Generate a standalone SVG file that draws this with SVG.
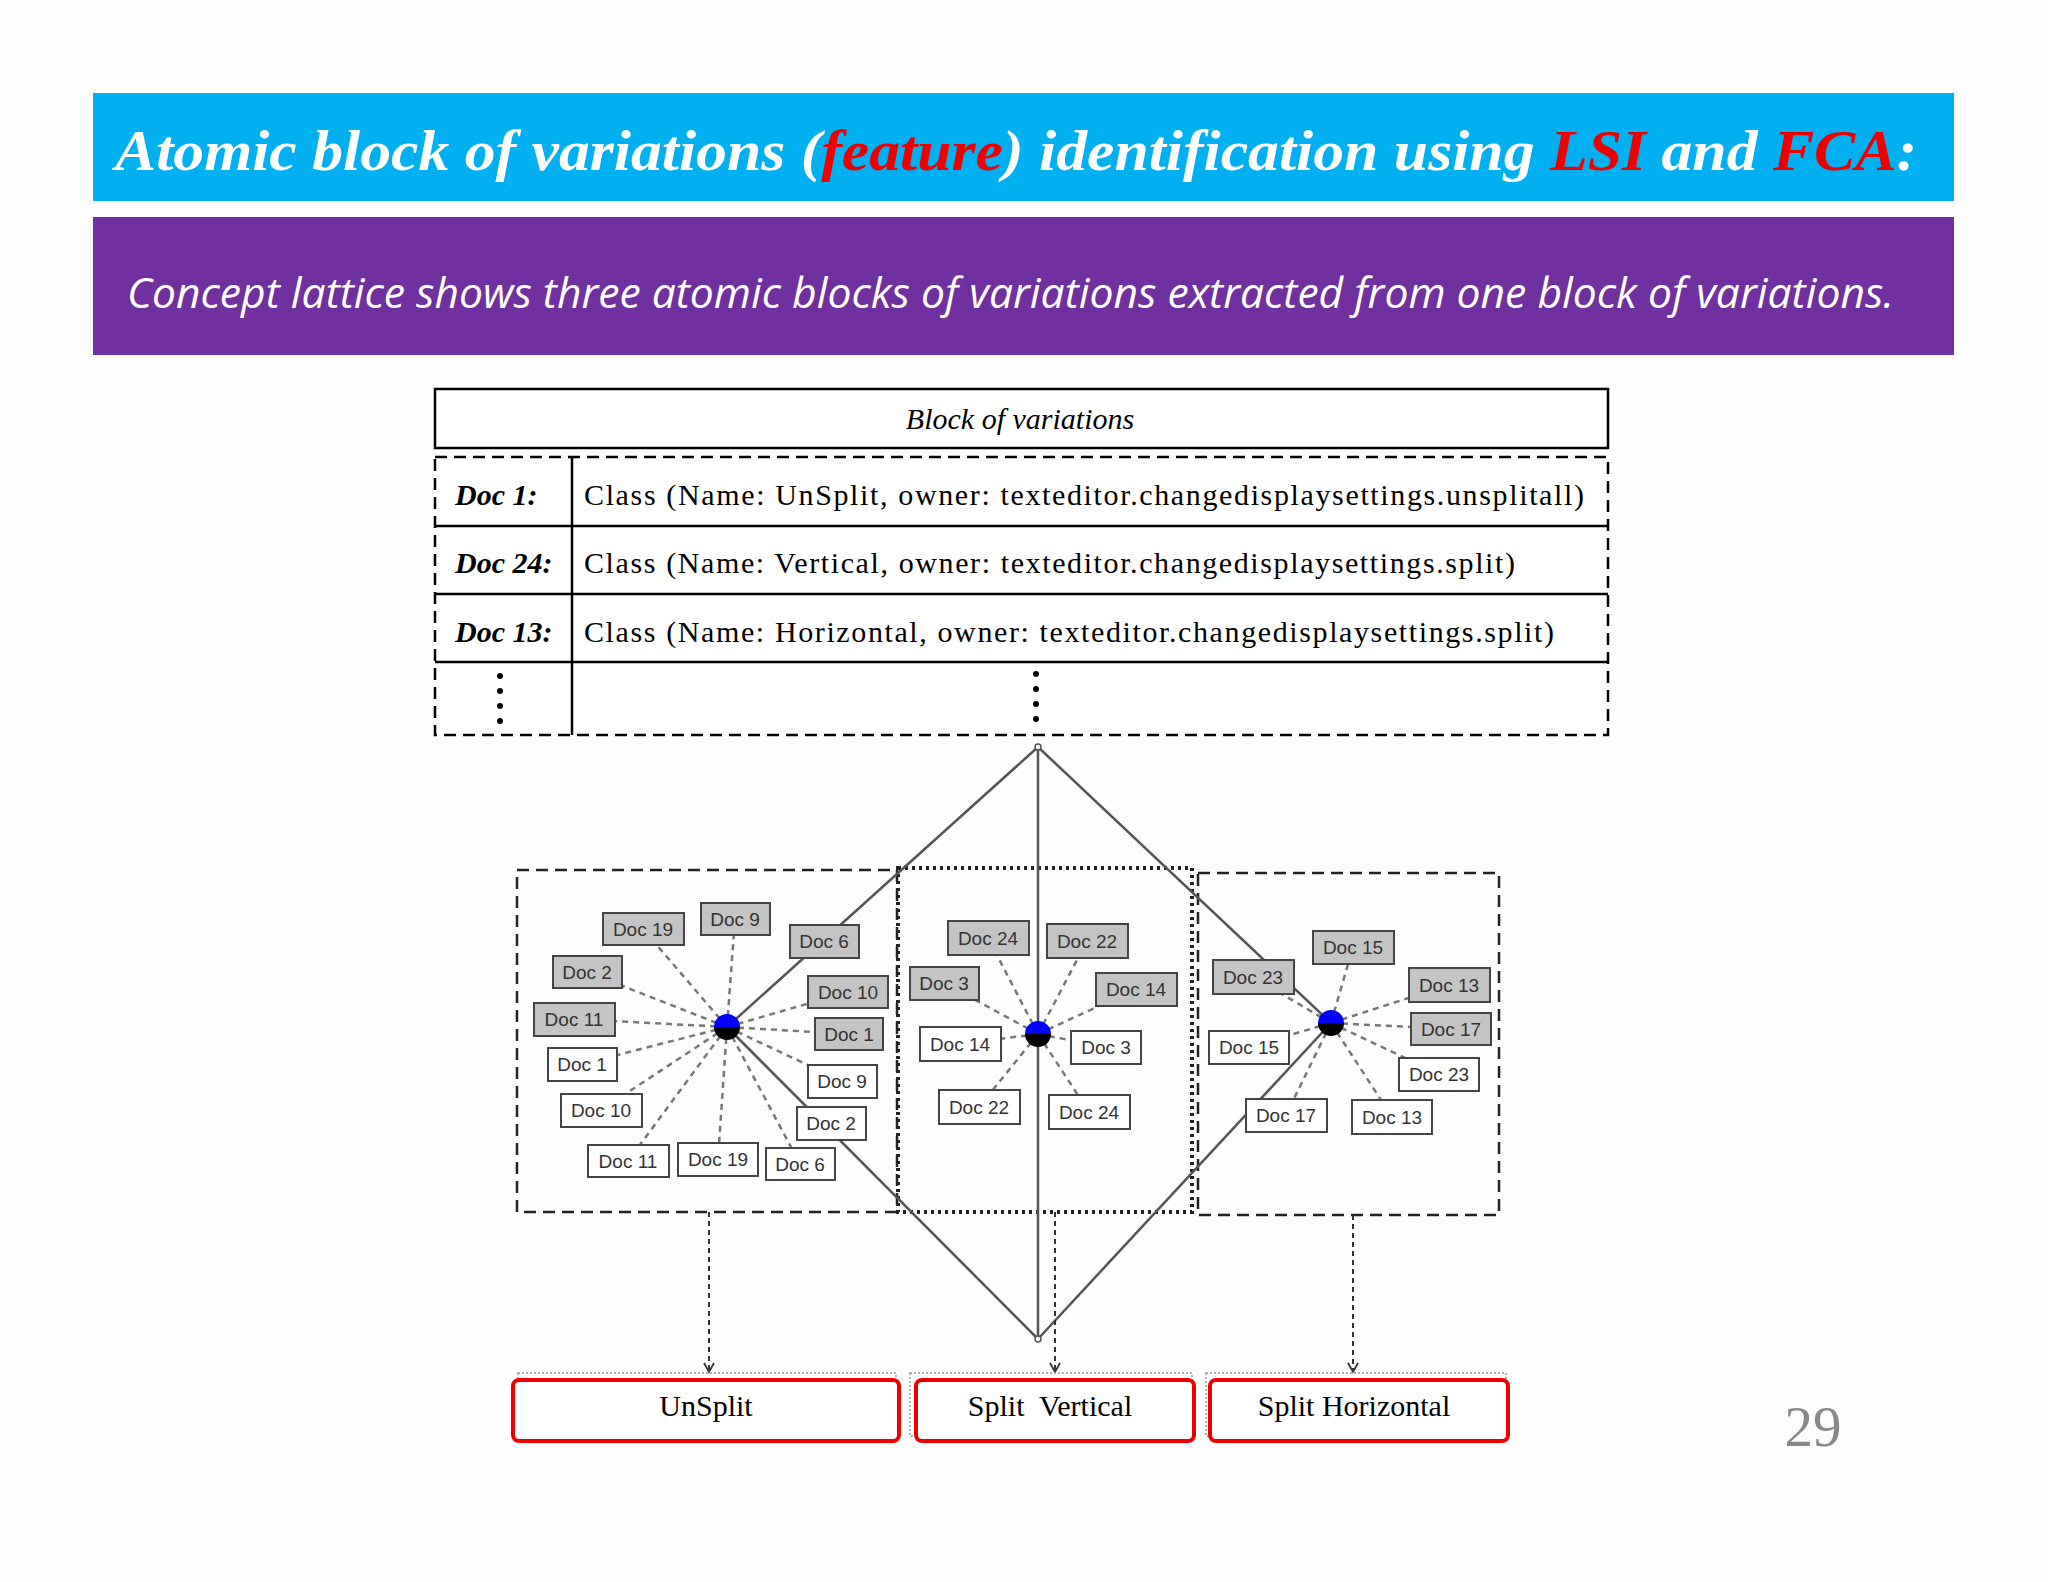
<svg xmlns="http://www.w3.org/2000/svg" width="2048" height="1582" viewBox="0 0 2048 1582">
<style>
.d rect{stroke:#444;stroke-width:2}
.g rect{fill:#c4c4c4}
.w rect{fill:#fff}
.d text{font-family:"Liberation Sans",Arial,sans-serif;font-size:19px;fill:#333;text-anchor:middle}
.sp line{stroke:#777;stroke-width:2.5;stroke-dasharray:6 5}
.lat line{stroke:#555;stroke-width:2.5}
.tb{font-family:"Liberation Serif","Times New Roman",serif;font-size:30px;fill:#000}
.ob rect.r{fill:#fff;stroke:#e00;stroke-width:4}
.ob text{font-family:"Liberation Serif",serif;font-size:30px;text-anchor:middle}
.arr line{stroke:#333;stroke-width:2;stroke-dasharray:5 4}
</style>
<defs>
<marker id="ah" viewBox="0 0 12 12" refX="10" refY="6" markerWidth="12" markerHeight="12" markerUnits="userSpaceOnUse" orient="auto"><path d="M1,1 L10,6 L1,11" fill="none" stroke="#333" stroke-width="1.8"/></marker>
<g id="hub"><path d="M-13,0 A13,13 0 0 1 13,0 Z" fill="#00f"/><path d="M-13,0 A13,13 0 0 0 13,0 Z" fill="#000"/></g>
</defs>
<rect width="2048" height="1582" fill="#fdfdfd"/>
<g id="title">
<rect x="93" y="93" width="1861" height="108" fill="#00b0f0"/>
<text x="115" y="170" font-family="Liberation Serif,serif" font-weight="bold" font-style="italic" font-size="57" fill="#fff" textLength="1802" lengthAdjust="spacingAndGlyphs">Atomic block of variations (<tspan fill="#e00">feature</tspan>) identification using <tspan fill="#e00">LSI</tspan> and <tspan fill="#e00">FCA</tspan>:</text>
</g>
<g id="subtitle">
<rect x="93" y="217" width="1861" height="138" fill="#7030a0"/>
<text x="127" y="308" font-family="Open Sans,Liberation Sans,sans-serif" font-style="italic" font-size="42" fill="#fff" textLength="1767" lengthAdjust="spacingAndGlyphs">Concept lattice shows three atomic blocks of variations extracted from one block of variations.</text>
</g>
<g id="table">
<rect x="435" y="389" width="1173" height="59" fill="#fff" stroke="#000" stroke-width="2.5"/>
<text x="1020" y="429" class="tb" font-style="italic" text-anchor="middle">Block of variations</text>
<rect x="435" y="457" width="1173" height="278" fill="#fff" stroke="#000" stroke-width="2.5" stroke-dasharray="12 7"/>
<line x1="435" y1="526" x2="1608" y2="526" stroke="#000" stroke-width="2.5"/>
<line x1="435" y1="594" x2="1608" y2="594" stroke="#000" stroke-width="2.5"/>
<line x1="435" y1="662" x2="1608" y2="662" stroke="#000" stroke-width="2.5"/>
<line x1="572" y1="457" x2="572" y2="735" stroke="#000" stroke-width="2.5"/>
<text x="455" y="505" class="tb" font-weight="bold" font-style="italic">Doc 1:</text>
<text x="455" y="573" class="tb" font-weight="bold" font-style="italic">Doc 24:</text>
<text x="455" y="642" class="tb" font-weight="bold" font-style="italic">Doc 13:</text>
<text x="584" y="505" class="tb" textLength="1000" lengthAdjust="spacing">Class (Name: UnSplit, owner: texteditor.changedisplaysettings.unsplitall)</text>
<text x="584" y="573" class="tb" textLength="931" lengthAdjust="spacing">Class (Name: Vertical, owner: texteditor.changedisplaysettings.split)</text>
<text x="584" y="642" class="tb" textLength="970" lengthAdjust="spacing">Class (Name: Horizontal, owner: texteditor.changedisplaysettings.split)</text>
<g fill="#000"><circle cx="500" cy="676" r="3"/><circle cx="500" cy="691" r="3"/><circle cx="500" cy="706" r="3"/><circle cx="500" cy="721" r="3"/>
<circle cx="1036" cy="674" r="3"/><circle cx="1036" cy="689" r="3"/><circle cx="1036" cy="704" r="3"/><circle cx="1036" cy="719" r="3"/></g>
</g>
<g id="clusters" fill="none" stroke="#222" stroke-width="2.5">
<rect x="517" y="870" width="380" height="342" stroke-dasharray="12 7"/>
<rect x="898" y="868" width="294" height="344" stroke-dasharray="3 4" stroke-width="4"/>
<rect x="1198" y="873" width="301" height="342" stroke-dasharray="12 7"/>
</g>
<g id="connectors">
<g class="sp">
<line x1="727" y1="1027" x2="643" y2="929"/><line x1="727" y1="1027" x2="735" y2="919"/><line x1="727" y1="1027" x2="587" y2="972"/><line x1="727" y1="1027" x2="848" y2="992"/><line x1="727" y1="1027" x2="574" y2="1019"/><line x1="727" y1="1027" x2="849" y2="1034"/><line x1="727" y1="1027" x2="582" y2="1064"/><line x1="727" y1="1027" x2="842" y2="1081"/><line x1="727" y1="1027" x2="601" y2="1110"/><line x1="727" y1="1027" x2="628" y2="1161"/><line x1="727" y1="1027" x2="718" y2="1159"/><line x1="727" y1="1027" x2="800" y2="1164"/>
<line x1="1038" y1="1034" x2="988" y2="938"/><line x1="1038" y1="1034" x2="1087" y2="941"/><line x1="1038" y1="1034" x2="944" y2="983"/><line x1="1038" y1="1034" x2="1136" y2="989"/><line x1="1038" y1="1034" x2="960" y2="1044"/><line x1="1038" y1="1034" x2="1106" y2="1047"/><line x1="1038" y1="1034" x2="979" y2="1107"/><line x1="1038" y1="1034" x2="1089" y2="1112"/>
<line x1="1331" y1="1023" x2="1353" y2="947"/><line x1="1331" y1="1023" x2="1253" y2="977"/><line x1="1331" y1="1023" x2="1449" y2="985"/><line x1="1331" y1="1023" x2="1451" y2="1029"/><line x1="1331" y1="1023" x2="1249" y2="1047"/><line x1="1331" y1="1023" x2="1439" y2="1074"/><line x1="1331" y1="1023" x2="1286" y2="1115"/><line x1="1331" y1="1023" x2="1392" y2="1117"/>
</g>
<g class="lat">
<line x1="1038" y1="747" x2="727" y2="1027"/><line x1="727" y1="1027" x2="1038" y2="1339"/>
<line x1="1038" y1="747" x2="1331" y2="1023"/><line x1="1331" y1="1023" x2="1038" y2="1339"/>
<line x1="1038" y1="747" x2="1038" y2="1339"/>
</g>
<circle cx="1038" cy="747" r="3" fill="#fff" stroke="#555" stroke-width="1.5"/>
<circle cx="1038" cy="1339" r="3" fill="#fff" stroke="#555" stroke-width="1.5"/>
<g class="arr">
<line x1="709" y1="1212" x2="709" y2="1372" marker-end="url(#ah)"/>
<line x1="1055" y1="1212" x2="1055" y2="1372" marker-end="url(#ah)"/>
<line x1="1353" y1="1215" x2="1353" y2="1372" marker-end="url(#ah)"/>
</g>
</g>
<g id="hubs"><use href="#hub" x="727" y="1027"/><use href="#hub" x="1038" y="1034"/><use href="#hub" x="1331" y="1023"/></g>
<g id="docs">
<g class="d g" id="l19g"><rect x="603" y="913" width="81" height="32"/><text x="643" y="936">Doc 19</text></g>
<g class="d g" id="l9g"><rect x="701" y="903" width="69" height="32"/><text x="735" y="926">Doc 9</text></g>
<g class="d g" id="l6g"><rect x="790" y="925" width="69" height="33"/><text x="824" y="948">Doc 6</text></g>
<g class="d g" id="l2g"><rect x="553" y="956" width="69" height="32"/><text x="587" y="979">Doc 2</text></g>
<g class="d g" id="l10g"><rect x="808" y="976" width="80" height="32"/><text x="848" y="999">Doc 10</text></g>
<g class="d g" id="l11g"><rect x="534" y="1003" width="81" height="33"/><text x="574" y="1026">Doc 11</text></g>
<g class="d g" id="l1g"><rect x="815" y="1018" width="68" height="32"/><text x="849" y="1041">Doc 1</text></g>
<g class="d w" id="l1w"><rect x="548" y="1048" width="69" height="33"/><text x="582" y="1071">Doc 1</text></g>
<g class="d w" id="l9w"><rect x="808" y="1065" width="69" height="33"/><text x="842" y="1088">Doc 9</text></g>
<g class="d w" id="l10w"><rect x="561" y="1094" width="81" height="33"/><text x="601" y="1117">Doc 10</text></g>
<g class="d w" id="l2w"><rect x="797" y="1107" width="69" height="33"/><text x="831" y="1130">Doc 2</text></g>
<g class="d w" id="l11w"><rect x="588" y="1145" width="81" height="32"/><text x="628" y="1168">Doc 11</text></g>
<g class="d w" id="l19w"><rect x="678" y="1143" width="80" height="33"/><text x="718" y="1166">Doc 19</text></g>
<g class="d w" id="l6w"><rect x="766" y="1148" width="69" height="32"/><text x="800" y="1171">Doc 6</text></g>
<g class="d g" id="m24g"><rect x="948" y="921" width="81" height="34"/><text x="988" y="945">Doc 24</text></g>
<g class="d g" id="m22g"><rect x="1047" y="924" width="81" height="34"/><text x="1087" y="948">Doc 22</text></g>
<g class="d g" id="m3g"><rect x="910" y="967" width="69" height="33"/><text x="944" y="990">Doc 3</text></g>
<g class="d g" id="m14g"><rect x="1096" y="973" width="81" height="33"/><text x="1136" y="996">Doc 14</text></g>
<g class="d w" id="m14w"><rect x="920" y="1027" width="81" height="34"/><text x="960" y="1051">Doc 14</text></g>
<g class="d w" id="m3w"><rect x="1071" y="1031" width="70" height="33"/><text x="1106" y="1054">Doc 3</text></g>
<g class="d w" id="m22w"><rect x="939" y="1090" width="81" height="34"/><text x="979" y="1114">Doc 22</text></g>
<g class="d w" id="m24w"><rect x="1049" y="1095" width="81" height="34"/><text x="1089" y="1119">Doc 24</text></g>
<g class="d g" id="r15g"><rect x="1313" y="931" width="81" height="33"/><text x="1353" y="954">Doc 15</text></g>
<g class="d g" id="r23g"><rect x="1213" y="960" width="81" height="34"/><text x="1253" y="984">Doc 23</text></g>
<g class="d g" id="r13g"><rect x="1409" y="968" width="81" height="34"/><text x="1449" y="992">Doc 13</text></g>
<g class="d g" id="r17g"><rect x="1411" y="1013" width="80" height="32"/><text x="1451" y="1036">Doc 17</text></g>
<g class="d w" id="r15w"><rect x="1209" y="1031" width="80" height="33"/><text x="1249" y="1054">Doc 15</text></g>
<g class="d w" id="r23w"><rect x="1399" y="1058" width="80" height="33"/><text x="1439" y="1081">Doc 23</text></g>
<g class="d w" id="r17w"><rect x="1246" y="1099" width="81" height="33"/><text x="1286" y="1122">Doc 17</text></g>
<g class="d w" id="r13w"><rect x="1352" y="1100" width="80" height="34"/><text x="1392" y="1124">Doc 13</text></g>
</g>
<g id="outputs" class="ob">
<g id="o1"><rect x="518" y="1373" width="378" height="63" fill="none" stroke="#999" stroke-width="1.5" stroke-dasharray="2 2"/><rect class="r" x="513" y="1380" width="386" height="61" rx="6"/><text x="706" y="1416">UnSplit</text></g>
<g id="o2"><rect x="910" y="1373" width="282" height="63" fill="none" stroke="#999" stroke-width="1.5" stroke-dasharray="2 2"/><rect class="r" x="916" y="1380" width="278" height="61" rx="6"/><text x="1050" y="1416" xml:space="preserve">Split  Vertical</text></g>
<g id="o3"><rect x="1206" y="1373" width="300" height="63" fill="none" stroke="#999" stroke-width="1.5" stroke-dasharray="2 2"/><rect class="r" x="1210" y="1380" width="298" height="61" rx="6"/><text x="1354" y="1416">Split Horizontal</text></g>
</g>
<text x="1813" y="1446" font-family="Liberation Serif,serif" font-size="57" fill="#888" text-anchor="middle">29</text>
</svg>
